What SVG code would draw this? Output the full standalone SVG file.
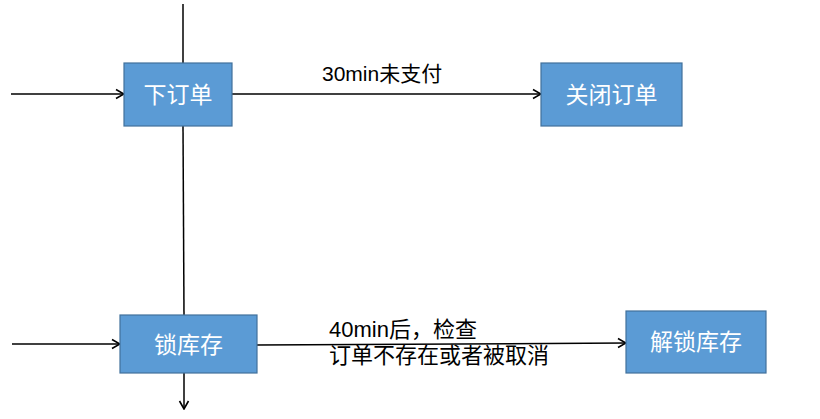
<svg xmlns="http://www.w3.org/2000/svg" width="820" height="419" viewBox="0 0 820 419">
<style>
.box{fill:#5B9BD5;stroke:#41719C;stroke-width:1.2}
.bt{fill:#ffffff;font-family:"Liberation Sans","Noto Sans CJK SC",sans-serif;font-size:23px;text-anchor:middle;dominant-baseline:central}
.lbl{fill:#000000;font-family:"Liberation Sans","Noto Sans CJK SC",sans-serif;font-size:21px}
.ln{stroke:#000000;stroke-width:1.5;fill:none}
</style>
<defs>
<marker id="arr" markerUnits="userSpaceOnUse" markerWidth="12" markerHeight="12" viewBox="0 0 12 12" refX="11" refY="6" orient="auto">
<path d="M3,1.5 L11,6 L3,10.5" fill="none" stroke="#000" stroke-width="1.6"/>
</marker>
</defs>
<g id="connectors">
<line class="ln" x1="183" y1="4" x2="183" y2="63"/>
<line class="ln" x1="183" y1="126" x2="184" y2="315"/>
<line class="ln" x1="11" y1="94" x2="124" y2="94" marker-end="url(#arr)"/>
<line class="ln" x1="232" y1="94" x2="541" y2="94" marker-end="url(#arr)"/>
<line class="ln" x1="12" y1="344" x2="120" y2="344" marker-end="url(#arr)"/>
<line class="ln" x1="184" y1="373" x2="184" y2="409" marker-end="url(#arr)"/>
<line class="ln" x1="257" y1="345" x2="626" y2="343" marker-end="url(#arr)"/>
<text class="lbl" x="322" y="81">30min未支付</text>
<text class="lbl" x="329" y="337" style="font-size:22px">40min后，检查</text>
<text class="lbl" x="329" y="363" style="font-size:22px">订单不存在或者被取消</text>
</g>
<g id="n1">
<rect class="box" x="124" y="63" width="108" height="63"/>
<text class="bt" x="178" y="95">下订单</text>
</g>
<g id="n2">
<rect class="box" x="541" y="63" width="141" height="63"/>
<text class="bt" x="611.5" y="95">关闭订单</text>
</g>
<g id="n3">
<rect class="box" x="120" y="315" width="137" height="58"/>
<text class="bt" x="188.5" y="345">锁库存</text>
</g>
<g id="n4">
<rect class="box" x="626" y="311" width="140" height="62"/>
<text class="bt" x="696" y="342">解锁库存</text>
</g>
</svg>
